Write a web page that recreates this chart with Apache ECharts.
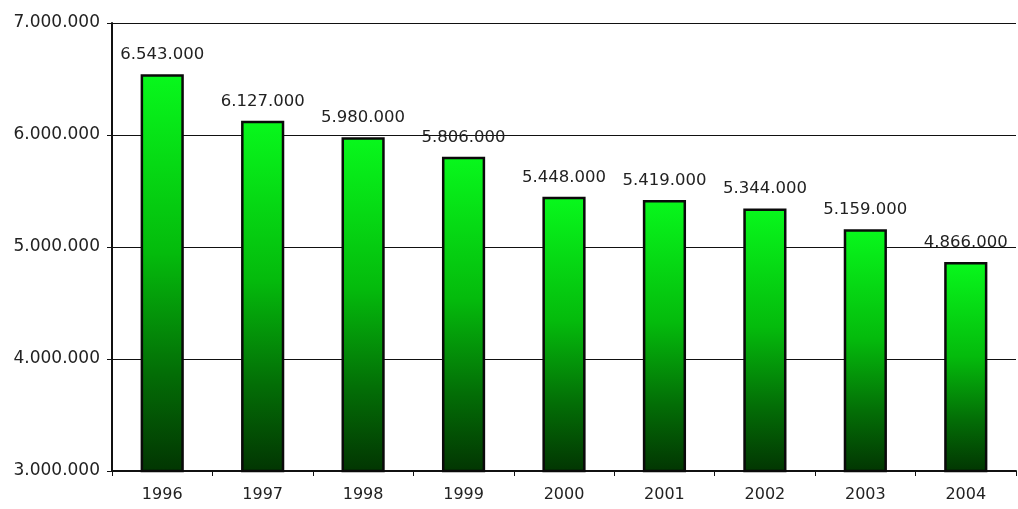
<!DOCTYPE html>
<html>
<head>
<meta charset="utf-8">
<script src="https://cdn.jsdelivr.net/npm/echarts@6/dist/echarts.min.js"></script>
<style>html,body{margin:0;padding:0;background:#fff;}#c{width:1018px;height:509px;}</style>
</head>
<body>
<div id="c"></div>
<script>
const categories = ['1996','1997','1998','1999','2000','2001','2002','2003','2004'];
const values = [6543000, 6127000, 5980000, 5806000, 5448000, 5419000, 5344000, 5159000, 4866000];
const yTicks = [3000000, 4000000, 5000000, 6000000, 7000000];

function fmt(v){ return String(v).replace(/\B(?=(\d{3})+(?!\d))/g, '.'); }

const FONT = 'DejaVu Sans, Liberation Sans, Arial, sans-serif';
const chart = echarts.init(document.getElementById('c'));
chart.setOption({
  animation: false,
  backgroundColor: '#fff',
  grid: { left: 112, right: 2, top: 23, bottom: 38 },
  xAxis: {
    type: 'category',
    data: categories,
    axisLine: { lineStyle: { color: '#111', width: 2 } },
    axisTick: { show: true, alignWithLabel: false, inside: false, length: 5, lineStyle: { color: '#111' } },
    axisLabel: { fontFamily: FONT, fontSize: 16, color: '#222', margin: 16 }
  },
  yAxis: {
    type: 'value',
    min: yTicks[0],
    max: yTicks[yTicks.length - 1],
    interval: yTicks[1] - yTicks[0],
    axisLine: { show: true, lineStyle: { color: '#111', width: 2 } },
    axisTick: { show: true, length: 5, lineStyle: { color: '#111' } },
    splitLine: { show: true, lineStyle: { color: '#111', width: 1 } },
    axisLabel: { fontFamily: FONT, fontSize: 17, color: '#222', margin: 12, formatter: fmt }
  },
  series: [{
    type: 'bar',
    data: values,
    barWidth: '43%',
    itemStyle: {
      borderColor: '#0a0a0a',
      borderWidth: 2.5,
      color: new echarts.graphic.LinearGradient(0, 0, 0, 1, [
        { offset: 0, color: '#08f81c' },
        { offset: 0.45, color: '#04bb0c' },
        { offset: 0.75, color: '#036e06' },
        { offset: 1, color: '#023502' }
      ])
    },
    label: {
      show: true,
      position: 'top',
      distance: 11,
      fontFamily: FONT,
      fontSize: 16.5,
      color: '#222',
      formatter: p => fmt(p.value)
    }
  }]
});
</script>
</body>
</html>
